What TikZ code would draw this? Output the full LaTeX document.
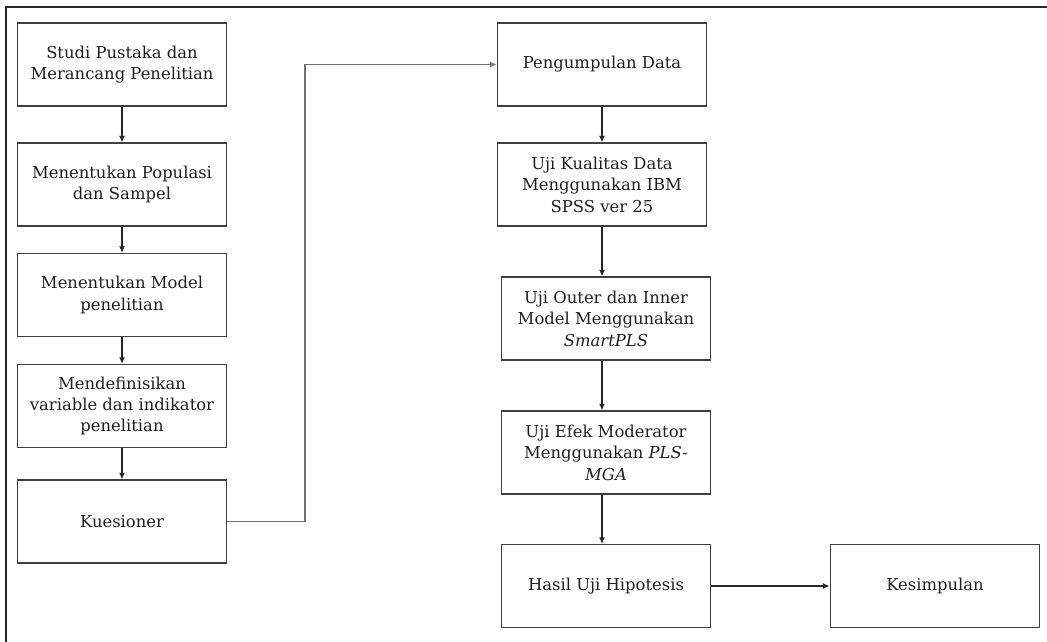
\documentclass[tikz,border=0pt]{standalone}
\usepackage{fontspec}
\setmainfont{DejaVu Serif}
\usepackage{tikz}
\usetikzlibrary{arrows.meta,positioning,calc}
\definecolor{boxline}{HTML}{404040}
\definecolor{txt}{HTML}{1f1f1f}
\tikzset{
  stepbox/.style ={rectangle,draw=boxline,line width=1.1pt,minimum width=157pt,minimum height=62pt,
                   inner sep=2pt,align=center,text=txt,font=\fontsize{12.3}{16.1}\selectfont},
  flow/.style    ={-{Latex[length=5pt,width=4.5pt]},line width=0.9pt,black!85},
  jump/.style    ={-{Latex[length=5pt,width=4.5pt]},line width=1.4pt,black!55},
  frame/.style   ={line width=1.6pt,black!85},
}
\begin{document}
\begin{tikzpicture}[x=0.75pt,y=-0.75pt]
  \useasboundingbox (0,0) rectangle (1047,642);
  % page frame (cut off at right and bottom)
  \draw[frame] (1047,7) -- (6,7) -- (6,642);
  % left column
  \node[stepbox] (pustaka) at (122,64.5) {Studi Pustaka dan\\Merancang Penelitian};
  \node[stepbox] (populasi) at (122,184.5) {Menentukan Populasi\\dan Sampel};
  \node[stepbox] (model) at (122,295) {Menentukan Model\\penelitian};
  \node[stepbox] (variabel) at (122,406) {Mendefinisikan\\variable dan indikator\\penelitian};
  \node[stepbox] (kuesioner) at (122,521.5) {Kuesioner};
  % right column
  \node[stepbox] (kumpul) at (602,64.5) {Pengumpulan Data};
  \node[stepbox] (kualitas) at (602,184.5) {Uji Kualitas Data\\Menggunakan IBM\\SPSS ver 25};
  \node[stepbox] (outer) at (606,318.5) {Uji Outer dan Inner\\Model Menggunakan\\\textit{SmartPLS}};
  \node[stepbox] (efek) at (606,452.5) {Uji Efek Moderator\\Menggunakan \textit{PLS-}\\\textit{MGA}};
  \node[stepbox] (hasil) at (606,586) {Hasil Uji Hipotesis};
  \node[stepbox] (simpul) at (935,586) {Kesimpulan};
  \foreach \a/\b in {pustaka/populasi,populasi/model,model/variabel,variabel/kuesioner,kumpul/kualitas}{
     \draw[flow] (\a) -- (\b);
  }
  \foreach \a/\b in {kualitas/outer,outer/efek,efek/hasil}{
     \draw[flow] (\a.south -| kualitas.south) -- (\b.north -| kualitas.south);
  }
  \draw[flow] (hasil) -- (simpul);
  \coordinate (turn) at (305,65);
  \draw[jump] (kuesioner.east) -- (kuesioner.east -| turn) |- (kumpul.west);
\end{tikzpicture}
\end{document}
